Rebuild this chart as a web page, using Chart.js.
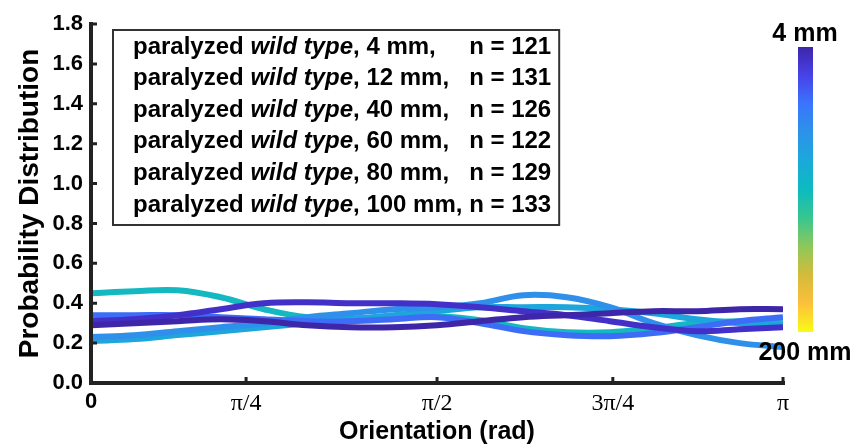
<!DOCTYPE html>
<html>
<head>
<meta charset="utf-8">
<script src="https://cdn.jsdelivr.net/npm/chart.js@4"></script>
<style>
  html, body { margin: 0; padding: 0; background: #fff; }
  #wrap { width: 857px; height: 445px; position: relative; }
</style>
</head>
<body>
<div id="wrap"><canvas id="orientChart"></canvas></div>
<script>
// orientation samples (rad), 0 .. pi
var orientation = [0, 0.196, 0.393, 0.589, 0.785, 0.982, 1.178, 1.374, 1.571, 1.767, 1.963, 2.160, 2.356, 2.553, 2.749, 2.945, 3.1415];

var distancesMm = [4, 12, 40, 60, 80, 100];
var counts = [121, 131, 126, 122, 129, 133];

// probability distribution
var prob4mm   = [0.29, 0.30, 0.31, 0.32, 0.31, 0.29, 0.28, 0.28, 0.29, 0.31, 0.33, 0.34, 0.35, 0.36, 0.36, 0.37, 0.37];
var prob12mm  = [0.31, 0.32, 0.34, 0.37, 0.40, 0.405, 0.40, 0.40, 0.395, 0.38, 0.36, 0.34, 0.31, 0.28, 0.26, 0.27, 0.28];
var prob40mm  = [0.34, 0.34, 0.34, 0.33, 0.32, 0.31, 0.31, 0.32, 0.33, 0.30, 0.26, 0.24, 0.235, 0.25, 0.28, 0.31, 0.33];
var prob60mm  = [0.23, 0.24, 0.26, 0.28, 0.30, 0.33, 0.35, 0.37, 0.38, 0.40, 0.44, 0.43, 0.38, 0.30, 0.24, 0.20, 0.18];
var prob80mm  = [0.21, 0.22, 0.24, 0.26, 0.28, 0.30, 0.32, 0.34, 0.36, 0.38, 0.38, 0.38, 0.37, 0.35, 0.32, 0.30, 0.29];
var prob100mm = [0.45, 0.46, 0.465, 0.43, 0.37, 0.33, 0.325, 0.33, 0.335, 0.315, 0.275, 0.255, 0.255, 0.275, 0.30, 0.31, 0.30];
var allProbs = [prob4mm, prob12mm, prob40mm, prob60mm, prob80mm, prob100mm];

var lineColors = ["#3e26a8", "#4230c8", "#3d6cf6", "#2e90ea", "#1ca6dc", "#13b8c0"];

var yTicks = [0, 0.2, 0.4, 0.6, 0.8, 1.0, 1.2, 1.4, 1.6, 1.8];
var xTickVals = [0, 0.704, 1.571, 2.369, Math.PI];
var xTickLabels = ["0", "\u03c0/4", "\u03c0/2", "3\u03c0/4", "\u03c0"];

// parula-like colorbar stops (top = 4 mm)
var cbarStops = ["#3e26a8", "#4742e9", "#3a75fd", "#2c93e8", "#1ba9da", "#0cbbc0", "#38c68f", "#8ec85a", "#d4bb3a", "#fcc03b", "#f9fb15"];
var cbarLabels = ["4 mm", "200 mm"];

var SANS = "'Liberation Sans', Arial, sans-serif";

var datasets = allProbs.map(function (arr, i) {
    return {
        label: distancesMm[i] + " mm",
        data: arr.map(function (v, j) { return { x: orientation[j], y: v }; }),
        borderColor: lineColors[i],
        borderWidth: 6,
        pointRadius: 0,
        tension: 0.4,
        fill: false
    };
});

var decorPlugin = {
    id: "decor",
    afterDraw: function (chart) {
        var c = chart.ctx, a = chart.chartArea;
        var xs = chart.scales.x, ys = chart.scales.y;
        c.save();
        // axes
        c.strokeStyle = "#222";
        c.lineWidth = 4;
        c.lineCap = "square";
        c.beginPath();
        c.moveTo(a.left, a.top);
        c.lineTo(a.left, a.bottom);
        c.lineTo(a.right, a.bottom);
        c.stroke();
        // inward ticks
        c.lineWidth = 3;
        c.lineCap = "butt";
        c.beginPath();
        yTicks.forEach(function (v) {
            var p = ys.getPixelForValue(v);
            c.moveTo(a.left, p); c.lineTo(a.left + 6, p);
        });
        xTickVals.forEach(function (v) {
            var p = xs.getPixelForValue(v);
            c.moveTo(p, a.bottom); c.lineTo(p, a.bottom - 6);
        });
        c.stroke();

        // legend box
        var fs = 24;
        var rowH = 31.6;
        var bx = 113, by = 30, tx = 133;
        var nx = 0;
        var rows = distancesMm.map(function (d) {
            return [["paralyzed ", false], ["wild type", true], [", " + d + " mm,", false]];
        });
        c.textBaseline = "middle";
        rows.forEach(function (segs) {
            var w = 0;
            segs.forEach(function (s) {
                c.font = (s[1] ? "italic " : "") + "bold " + fs + "px " + SANS;
                w += c.measureText(s[0]).width;
            });
            c.font = "bold " + fs + "px " + SANS;
            w += c.measureText(" ").width;
            nx = Math.max(nx, tx + w);
        });
        var maxR = 0;
        rows.forEach(function (segs, i) {
            var y = by + 17 + i * rowH;
            var x = tx;
            c.fillStyle = "#000";
            segs.forEach(function (s) {
                c.font = (s[1] ? "italic " : "") + "bold " + fs + "px " + SANS;
                c.fillText(s[0], x, y);
                x += c.measureText(s[0]).width;
            });
            c.font = "bold " + fs + "px " + SANS;
            var nt = "n = " + counts[i];
            c.fillText(nt, nx, y);
            maxR = Math.max(maxR, nx + c.measureText(nt).width);
        });
        c.strokeStyle = "#333";
        c.lineWidth = 2;
        c.strokeRect(bx, by, maxR + 8 - bx, 195);

        // colorbar
        var cx = 798, cy = 47, cw = 15, ch = 285;
        var g = c.createLinearGradient(0, cy, 0, cy + ch);
        cbarStops.forEach(function (col, i) { g.addColorStop(i / (cbarStops.length - 1), col); });
        c.fillStyle = g;
        c.fillRect(cx, cy, cw, ch);
        c.fillStyle = "#000";
        c.font = "bold 25px " + SANS;
        c.textAlign = "center";
        c.fillText(cbarLabels[0], 805, 34);
        c.fillText(cbarLabels[1], 805, 353);
        c.restore();
    }
};

new Chart(document.getElementById("orientChart").getContext("2d"), {
    type: "line",
    data: { datasets: datasets },
    options: {
        responsive: true,
        maintainAspectRatio: false,
        animation: false,
        layout: { padding: { left: 0, right: 74, top: 24, bottom: 0 } },
        plugins: {
            legend: { display: false },
            tooltip: { enabled: false }
        },
        scales: {
            x: {
                type: "linear",
                min: 0,
                max: Math.PI,
                afterBuildTicks: function (axis) {
                    axis.ticks = xTickVals.map(function (v) { return { value: v }; });
                },
                afterFit: function (axis) { axis.height = 62; },
                grid: { display: false, drawTicks: false },
                border: { display: false },
                ticks: {
                    padding: 6,
                    color: "#000",
                    maxRotation: 0,
                    autoSkip: false,
                    callback: function (v, i) { return xTickLabels[i]; },
                    font: function (ctx) {
                        return ctx.index === 0
                            ? { family: SANS, size: 22, weight: "bold" }
                            : { family: "'Liberation Serif', 'Times New Roman', serif", size: 24, weight: "normal" };
                    }
                },
                title: {
                    display: true,
                    text: "Orientation (rad)",
                    color: "#000",
                    padding: { top: 0, bottom: 0 },
                    font: { family: SANS, size: 25, weight: "bold", lineHeight: 1 }
                }
            },
            y: {
                min: 0,
                max: 1.8,
                afterBuildTicks: function (axis) {
                    axis.ticks = yTicks.map(function (v) { return { value: v }; });
                },
                afterFit: function (axis) { axis.width = 91; },
                grid: { display: false, drawTicks: false },
                border: { display: false },
                ticks: {
                    padding: 8,
                    color: "#000",
                    callback: function (v) { return v.toFixed(1); },
                    font: { family: SANS, size: 22, weight: "bold" }
                },
                title: {
                    display: true,
                    text: "Probability Distribution",
                    color: "#000",
                    padding: { top: 13, bottom: 0 },
                    font: { family: SANS, size: 28, weight: "bold" }
                }
            }
        }
    },
    plugins: [decorPlugin]
});
</script>
</body>
</html>
